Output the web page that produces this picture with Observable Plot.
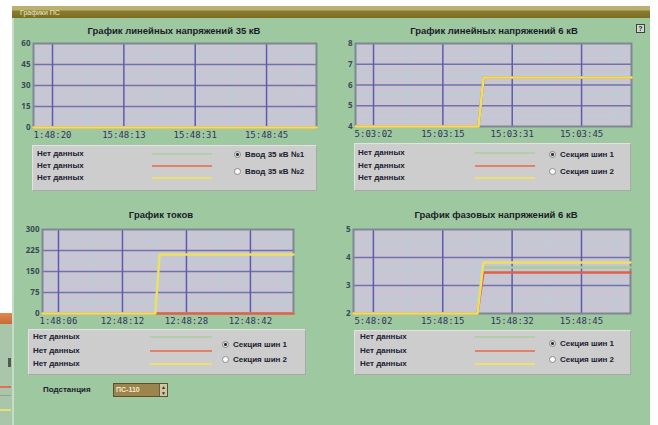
<!DOCTYPE html>
<html><head><meta charset="utf-8">
<script src="https://cdn.jsdelivr.net/npm/d3@7"></script>
<script src="https://cdn.jsdelivr.net/npm/@observablehq/plot@0.6"></script>
<style>
html,body{margin:0;padding:0;}
body{width:658px;height:425px;position:relative;overflow:hidden;background:#fff;font-family:"Liberation Sans",Arial,sans-serif;}
.abs{position:absolute;}
#win{left:12px;top:6px;width:638px;height:419px;background:#9ec8a0;border-left:2px solid #c6dcc6;box-sizing:border-box;}
#bar{left:12px;top:6px;width:638px;height:12px;background:linear-gradient(#bcb070 0,#bcb070 4px,#8a7d30 5px,#7a6d22 12px);}
#bar span{position:absolute;left:8px;top:3px;font-size:7px;line-height:7px;color:#efe8c8;}
.title{font-weight:bold;font-size:9.5px;line-height:10px;color:#1c1c28;white-space:nowrap;transform:translateX(-50%);}
.leg{background:#cdcdcd;border-top:1px solid #e2e2e2;border-left:1px solid #e2e2e2;border-right:1px solid #a8a8a8;border-bottom:1px solid #a8a8a8;box-sizing:border-box;}
.lt{font-size:8px;line-height:8px;font-weight:bold;color:#202030;white-space:nowrap;}
.ll{height:2px;}
.rb{width:7px;height:7px;border-radius:50%;border:1px solid #8a8a8a;background:#fff;box-sizing:border-box;}
.rb.on{background:radial-gradient(circle,#303030 0 1.2px,#e4e4e4 1.8px);}
</style></head><body>
<div id="frag" class="abs" style="left:0;top:313px;width:12px;height:112px;background:#a9c6aa;"></div>
<div class="abs" style="left:0;top:313px;width:12px;height:11px;background:linear-gradient(#e08850,#c86a34);"></div>
<div class="abs" style="left:8px;top:358px;width:3px;height:9px;background:#505a50;"></div>
<div class="abs" style="left:0;top:386px;width:11px;height:2px;background:#e07050;"></div>
<div class="abs" style="left:0;top:395px;width:11px;height:1px;background:#8fa590;"></div>
<div class="abs" style="left:0;top:409px;width:11px;height:2px;background:#e6e070;"></div>
<div id="win" class="abs"></div>
<div id="bar" class="abs"><span>Графики ПС</span></div>
<div class="abs" style="left:636px;top:24px;width:9px;height:9px;border:1px solid #404040;background:#d0dcd0;box-sizing:border-box;font-size:7px;line-height:7px;text-align:center;font-weight:bold;color:#202020;">?</div>
<div class="abs lt" style="left:43px;top:386px;">Подстанция</div>
<div class="abs" style="left:113px;top:383px;width:55px;height:14px;border:1px solid #5a5030;background:#9c844c;box-sizing:border-box;"></div>
<div class="abs" style="left:116px;top:386px;font-size:7px;line-height:7px;color:#f2ead0;font-weight:bold;">ПС-110</div>
<div class="abs" style="left:159px;top:384px;width:8px;height:12px;background:#cfc6a4;border-left:1px solid #6a6040;box-sizing:border-box;font-size:5px;line-height:6px;text-align:center;color:#333;">▲<br>▼</div>
<div id="root"></div>
<script>
// ---------- DATA ----------
const xTickSec = [0, 15, 30, 45];
const lineColors = ["#a6cc9a", "#e0604a", "#ece064"];
const legendColors = ["#b2ceaa", "#e4806a", "#ece070"];
const legendText = ["Нет данных", "Нет данных", "Нет данных"];

// Chart 1: line voltages 35 kV (no data)
const c1Title = "График линейных напряжений 35 кВ";
const c1Time = [-4, 55.5];
const c1Green = [0, 0];
const c1Red = [0, 0];
const c1Yellow = [0, 0];
const c1YTicks = [0, 15, 30, 45, 60];
const c1XLabels = ["1:48:20", "15:48:13", "15:48:31", "15:48:45"];
const c1Radios = ["Ввод 35 кВ №1", "Ввод 35 кВ №2"];

// Chart 2: line voltages 6 kV
const c2Title = "График линейных напряжений 6 кВ";
const c2Time = [-3.9, 22.7, 23.8, 55.8];
const c2Green = [0, 0, 6.36, 6.36];
const c2Red = [0, 0, 6.36, 6.36];
const c2Yellow = [0, 0, 6.36, 6.36];
const c2YTicks = [4, 5, 6, 7, 8];
const c2XLabels = ["5:03:02", "15:03:15", "15:03:31", "15:03:45"];
const c2Radios = ["Секция шин 1", "Секция шин 2"];

// Chart 3: currents
const c3Title = "График токов";
const c3Time = [-3.75, 22.7, 23.7, 55.1];
const c3Green = [0, 0, 0, 0];
const c3Red = [0, 0, 0, 0];
const c3Yellow = [0, 0, 211, 211];
const c3YTicks = [0, 75, 150, 225, 300];
const c3XLabels = ["1:48:06", "12:48:12", "12:48:28", "12:48:42"];
const c3Radios = ["Секция шин 1", "Секция шин 2"];

// Chart 4: phase voltages 6 kV
const c4Title = "График фазовых напряжений 6 кВ";
const c4Time = [-4.3, 22.5, 23.8, 55.6];
const c4Green = [0, 0, 3.64, 3.64];
const c4Red = [0, 0, 3.46, 3.46];
const c4Yellow = [0, 0, 3.82, 3.82];
const c4YTicks = [2, 3, 4, 5];
const c4XLabels = ["5:48:02", "15:48:15", "15:48:32", "15:48:45"];
const c4Radios = ["Секция шин 1", "Секция шин 2"];

// ---------- LAYOUT ----------
const charts = [
  {title:c1Title, tcx:174, tcy:31, time:c1Time, series:[c1Green,c1Red,c1Yellow], yTicks:c1YTicks, xLabels:c1XLabels, radios:c1Radios,
   svg:{left:0, top:36, width:325, height:106, ml:33, mr:9, mt:7, mb:15},
   leg:{left:32, top:145, width:285, height:46, tx:5, rows:[9,21,33], lx:[152,212], rx:237, rr:[10,27]}},
  {title:c2Title, tcx:494, tcy:31, time:c2Time, series:[c2Green,c2Red,c2Yellow], yTicks:c2YTicks, xLabels:c2XLabels, radios:c2Radios,
   svg:{left:330, top:36, width:328, height:106, ml:25, mr:27, mt:7, mb:16},
   leg:{left:354, top:143, width:277, height:48, tx:4, rows:[10,23,35], lx:[475,535], rx:552, rr:[12,29]}},
  {title:c3Title, tcx:161, tcy:215, time:c3Time, series:[c3Green,c3Red,c3Yellow], yTicks:c3YTicks, xLabels:c3XLabels, radios:c3Radios,
   svg:{left:0, top:222, width:320, height:106, ml:42, mr:27, mt:7, mb:15},
   leg:{left:28, top:329, width:278, height:46, tx:5, rows:[8,22,35], lx:[150,212], rx:225, rr:[16,31]}},
  {title:c4Title, tcx:496, tcy:215, time:c4Time, series:[c4Green,c4Red,c4Yellow], yTicks:c4YTicks, xLabels:c4XLabels, radios:c4Radios,
   svg:{left:330, top:222, width:328, height:106, ml:23, mr:28, mt:7, mb:15},
   leg:{left:354, top:330, width:277, height:45, tx:6, rows:[7,21,34], lx:[475,535], rx:552, rr:[14,30]}}
];

const root = document.getElementById("root");
function el(cls, style, text) {
  const d = document.createElement("div");
  d.className = "abs " + cls;
  Object.assign(d.style, style);
  if (text != null) d.textContent = text;
  root.appendChild(d);
  return d;
}

function makePlot(c) {
  const xd = d3.extent(c.time);
  const yd = d3.extent(c.yTicks);
  const yStep = c.yTicks[1] - c.yTicks[0];
  const xStep = xTickSec[1] - xTickSec[0];
  const majorY = c.yTicks.filter(d => d > yd[0] && d < yd[1]);
  const minorY = c.yTicks.slice(0, -1).map(d => d + yStep / 2);
  const minorX = [xTickSec[0] - xStep / 2, ...xTickSec.map(d => d + xStep / 2)].filter(d => d > xd[0] && d < xd[1]);
  const labelMap = new Map(xTickSec.map((d, i) => [d, c.xLabels[i]]));
  const s = c.svg;
  const lines = c.series.map((vals, k) =>
    Plot.line(vals.map((v, i) => ({t: c.time[i], v})), {x: "t", y: "v", stroke: lineColors[k], strokeWidth: 2.5}));
  return Plot.plot({
    width: s.width, height: s.height,
    marginLeft: s.ml, marginRight: s.mr, marginTop: s.mt, marginBottom: s.mb,
    style: {background: "transparent", overflow: "visible"},
    x: {domain: xd, label: null},
    y: {domain: yd, clamp: true, label: null},
    marks: [
      Plot.frame({fill: "#c9c6d4"}),
      Plot.gridX(minorX, {stroke: "#b4d0da", strokeOpacity: 1, strokeWidth: 1}),
      Plot.gridY(minorY, {stroke: "#b4d0da", strokeOpacity: 1, strokeWidth: 1}),
      Plot.gridY(majorY, {stroke: "#7470ac", strokeOpacity: 1, strokeWidth: 1.5}),
      Plot.gridX(xTickSec, {stroke: "#5c5cac", strokeOpacity: 1, strokeWidth: 1.5}),
      Plot.frame({stroke: "#7f8794", strokeWidth: 2}),
      ...lines,
      Plot.axisX(xTickSec, {label: null, tickSize: 0, tickPadding: 4, tickFormat: d => labelMap.get(d), fontFamily: "DejaVu Sans Mono", fontSize: 9, fill: "#34345a"}),
      Plot.axisY(c.yTicks, {label: null, tickSize: 0, tickPadding: 3, fontSize: 8, fontWeight: "bold", fill: "#3a4a58"})
    ]
  });
}

charts.forEach(c => {
  el("title", {left: c.tcx + "px", top: (c.tcy - 5) + "px"}, c.title);
  const wrap = el("", {left: c.svg.left + "px", top: c.svg.top + "px"});
  wrap.appendChild(makePlot(c));
  const L = c.leg;
  el("leg", {left: L.left + "px", top: L.top + "px", width: L.width + "px", height: L.height + "px"});
  legendText.forEach((t, k) => {
    el("lt", {left: (L.left + L.tx) + "px", top: (L.top + L.rows[k] - 4) + "px"}, t);
    el("ll", {left: L.lx[0] + "px", top: (L.top + L.rows[k] - 1) + "px", width: (L.lx[1] - L.lx[0]) + "px", background: legendColors[k]});
  });
  c.radios.forEach((t, k) => {
    el("rb" + (k === 0 ? " on" : ""), {left: (L.rx - 3) + "px", top: (L.top + L.rr[k] - 4) + "px"});
    el("lt", {left: (L.rx + 8) + "px", top: (L.top + L.rr[k] - 4) + "px"}, t);
  });
});
</script>
</body></html>
